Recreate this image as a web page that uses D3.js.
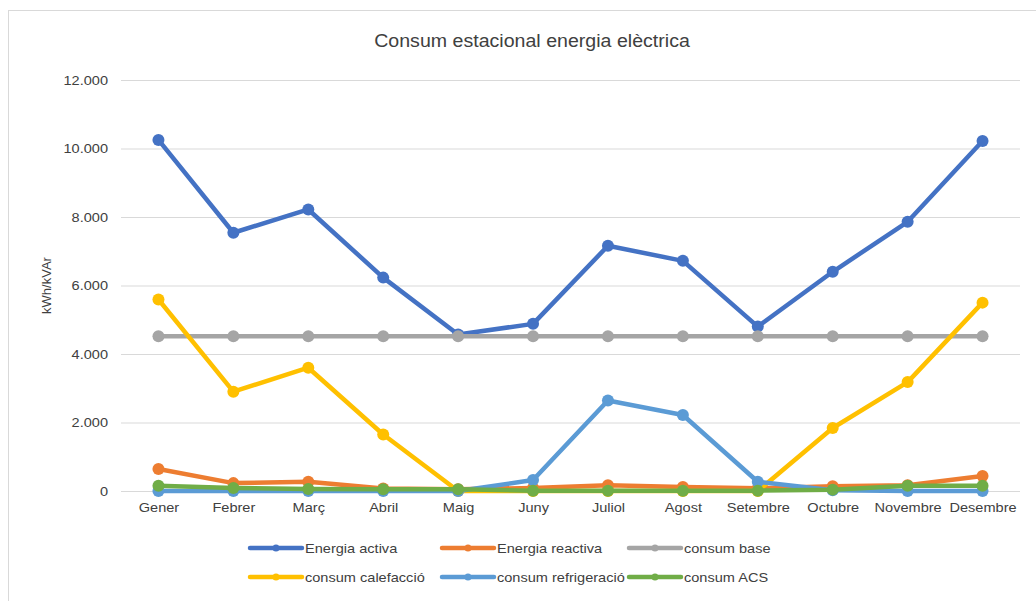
<!DOCTYPE html>
<html>
<head>
<meta charset="utf-8">
<script src="https://cdn.jsdelivr.net/npm/d3@7"></script>
<style>
  body{margin:0;background:#fff;}
  .canvas{width:1036px;height:601px;}
  text{font-family:"Liberation Sans",Arial,sans-serif;fill:#404040;}
</style>
</head>
<body>
<div class="canvas" id="canvas"></div>
<script>
// data
var months = ['Gener','Febrer','Març','Abril','Maig','Juny','Juliol','Agost','Setembre','Octubre','Novembre','Desembre'];
var energiaActiva     = [10250,7540,8220,6230,4570,4880,7160,6720,4800,6400,7860,10220];
var energiaReactiva   = [640,230,270,70,50,90,170,120,80,140,170,440];
var consumBase        = [4520,4520,4520,4520,4520,4520,4520,4520,4520,4520,4520,4520];
var consumCalefaccio  = [5590,2900,3600,1650,0,0,0,0,0,1840,3180,5500];
var consumRefrig      = [0,0,0,0,0,320,2640,2220,270,20,0,0];
var consumACS         = [150,90,60,50,50,10,10,10,10,40,150,150];
var yTicks = [0,2000,4000,6000,8000,10000,12000];

var seriesNames  = ['Energia activa','Energia reactiva','consum base','consum calefacció','consum refrigeració','consum ACS'];
var seriesValues = [energiaActiva,energiaReactiva,consumBase,consumCalefaccio,consumRefrig,consumACS];
var seriesColors = ['#4472C4','#ED7D31','#A5A5A5','#FFC000','#5B9BD5','#70AD47'];

var W = 1036, H = 601;
var m = {t:80,r:16,b:110,l:121};
var sx = 1.12; // reference text is a bit stretched sideways

var svg = d3.select('.canvas')
    .append('svg')
    .attr('width',W)
    .attr('height',H);

// chart frame
svg.append('rect')
    .attr('x',8.5).attr('y',10.5)
    .attr('width',1040).attr('height',620)
    .style('fill','none')
    .style('stroke','#d9d9d9');

var scaleX = d3.scalePoint()
    .domain(months)
    .range([m.l, W - m.r])
    .padding(0.5);
var scaleY = d3.scaleLinear()
    .domain([0,12000])
    .range([H - m.b, m.t]);

var fmt = d3.formatLocale({decimal:',',thousands:'.',grouping:[3],currency:['','']}).format(',');

// gridlines + y labels
var axisY = d3.axisLeft()
    .scale(scaleY)
    .tickValues(yTicks)
    .tickSize(-(W - m.r - m.l))
    .tickPadding(0)
    .tickFormat(fmt);
var gy = svg.append('g')
    .attr('class','axis axis-y')
    .attr('transform','translate(' + m.l + ',0)')
    .call(axisY);
gy.select('.domain').remove();
gy.selectAll('line').style('stroke','#d9d9d9');
gy.selectAll('text')
    .attr('x',0)
    .attr('transform','translate(-13,0) scale(' + sx + ',1)')
    .style('font-size','13px');

// month labels
var axisX = d3.axisBottom()
    .scale(scaleX)
    .tickSize(0)
    .tickPadding(12);
var gx = svg.append('g')
    .attr('class','axis axis-x')
    .attr('transform','translate(0,' + (H - m.b) + ')')
    .call(axisX);
gx.select('.domain').remove();
gx.selectAll('text')
    .attr('transform','scale(' + sx + ',1)')
    .attr('x',0)
    .style('font-size','13px');

// title
svg.append('text')
    .attr('transform','translate(532,47) scale(' + sx + ',1)')
    .attr('text-anchor','middle')
    .style('font-size','17.5px')
    .text('Consum estacional energia elèctrica');

// y title
svg.append('text')
    .attr('transform','translate(51,' + ((H - m.b + m.t) / 2) + ') rotate(-90)')
    .attr('text-anchor','middle')
    .style('font-size','13px')
    .text('kWh/kVAr');

// lines + markers
var line = d3.line()
    .x(function(d,i){return scaleX(months[i]);})
    .y(function(d){return scaleY(d);});

seriesValues.forEach(function(vals,k){
    var g = svg.append('g').attr('class','series');
    g.append('path')
        .datum(vals)
        .attr('d',line)
        .style('fill','none')
        .style('stroke',seriesColors[k])
        .style('stroke-width',4.5)
        .style('stroke-linejoin','round');
    g.selectAll('circle')
        .data(vals)
        .enter()
        .append('circle')
        .attr('cx',function(d,i){return scaleX(months[i]);})
        .attr('cy',function(d){return scaleY(d);})
        .attr('r',6)
        .style('fill',seriesColors[k]);
});

// legend
var legX = [250,442,629], legY = [548,577];
var leg = svg.selectAll('.legend')
    .data(seriesNames)
    .enter()
    .append('g')
    .attr('class','legend')
    .attr('transform',function(d,i){
        return 'translate(' + legX[i % 3] + ',' + legY[Math.floor(i / 3)] + ')';
    });
leg.append('line')
    .attr('x1',0).attr('x2',52)
    .style('stroke',function(d,i){return seriesColors[i];})
    .style('stroke-width',4.5)
    .style('stroke-linecap','round');
leg.append('circle')
    .attr('cx',26).attr('r',3.5)
    .style('fill',function(d,i){return seriesColors[i];});
leg.append('text')
    .attr('transform','translate(55,0) scale(' + sx + ',1)')
    .attr('dy','0.35em')
    .style('font-size','13px')
    .text(function(d){return d;});
</script>
</body>
</html>
